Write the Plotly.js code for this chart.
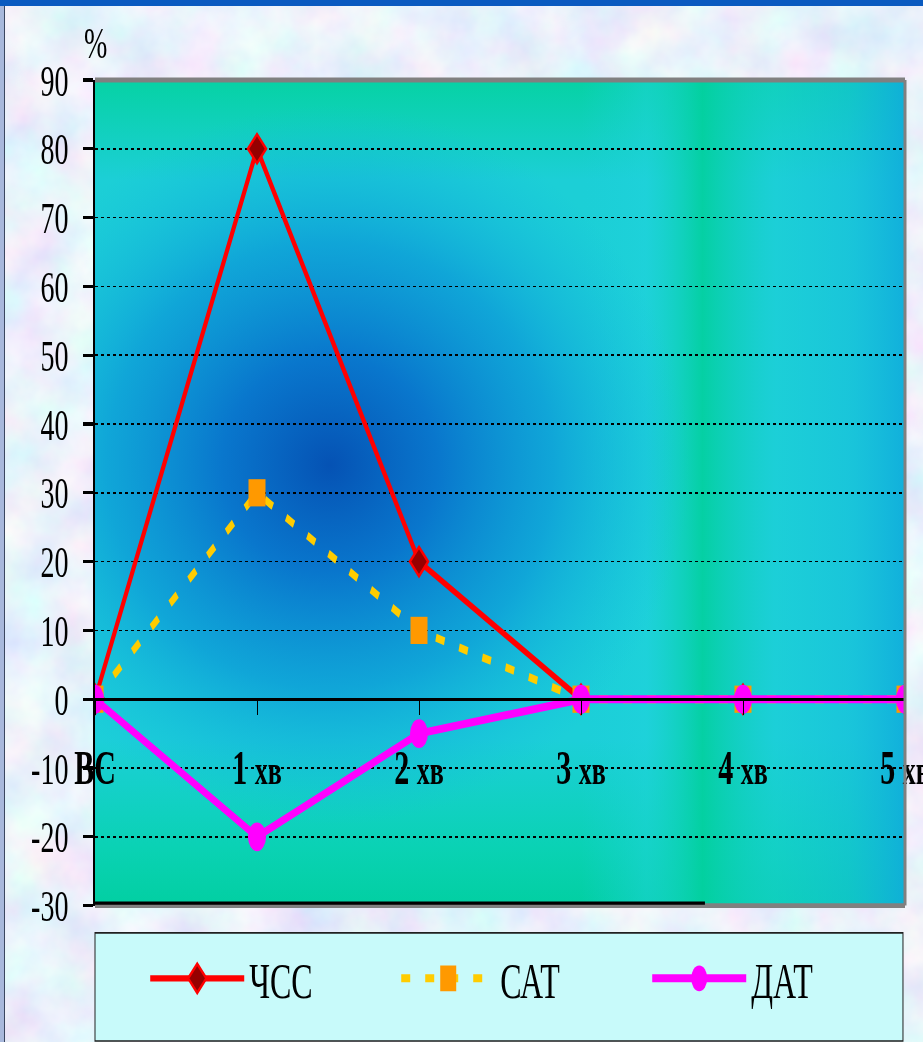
<!DOCTYPE html>
<html>
<head>
<meta charset="utf-8">
<script src="https://cdn.plot.ly/plotly-3.0.1.min.js"></script>
<style>
  html, body { margin: 0; padding: 0; width: 923px; height: 1042px; overflow: hidden; }
  body { position: relative; background-color: #d2dff6; }
  #topbar { position: absolute; left: 0; top: 0; width: 923px; height: 6px; background: #0a5ac0; }
  #edge { position: absolute; left: 0; top: 6px; width: 4px; height: 1036px; background: #a8b8dc; border-right: 1px solid #3a4660; }
  /* the chart is laid out at 1/1.6 height and stretched vertically */
  #chart { position: absolute; left: 0; top: 0; width: 923px; height: 652px; transform: scaleY(1.6); transform-origin: 0 0; }
</style>
</head>
<body>
<div id="topbar"></div>
<div id="edge"></div>
<div id="chart"></div>
<script>
// Time points after the load and the relative change (%) of each indicator
const categories = ['ВС', '1 хв', '2 хв', '3 хв', '4 хв', '5 хв'];
const hrValues  = [0, 80, 20, 0, 0, 0];    // ЧСС
const sbpValues = [0, 30, 10, 0, 0, 0];    // САТ
const dbpValues = [0, -20, -5, 0, 0, 0];   // ДАТ
const seriesNames = ['ЧСС', 'САТ', 'ДАТ'];
const yTickValues = [-30, -20, -10, 0, 10, 20, 30, 40, 50, 60, 70, 80, 90];
const yUnit = '%';

// mottled pastel page background
const textureSvg =
  "<svg xmlns='http://www.w3.org/2000/svg' width='923' height='1042'>" +
  "<filter id='n' x='0' y='0' width='100%' height='100%'>" +
  "<feTurbulence type='fractalNoise' baseFrequency='0.018' numOctaves='4' seed='11'/>" +
  "<feColorMatrix type='matrix' values='0.42 0 0 0 0.61  0 0.36 0 0 0.70  0 0 0.1 0 0.91  0 0 0 0 1'/>" +
  "</filter><rect width='100%' height='100%' filter='url(#n)'/></svg>";
document.body.style.backgroundImage = 'url("data:image/svg+xml,' + encodeURIComponent(textureSvg) + '")';

// gradient fill of the plotting area
const plotFillSvg =
  "<svg xmlns='http://www.w3.org/2000/svg' width='810' height='825' viewBox='0 0 810 825' preserveAspectRatio='none'>" +
  "<defs>" +
  "<linearGradient id='v' x1='0' y1='0' x2='0' y2='1'>" +
  "<stop offset='0' stop-color='#06d2a4'/><stop offset='0.12' stop-color='#1ccfd6'/>" +
  "<stop offset='0.8' stop-color='#1ccfd8'/><stop offset='0.93' stop-color='#0ad2b4'/>" +
  "<stop offset='1' stop-color='#02cfa2'/></linearGradient>" +
  "<linearGradient id='h' x1='0' y1='0' x2='1' y2='0'>" +
  "<stop offset='0' stop-color='#1cd0dc' stop-opacity='0'/>" +
  "<stop offset='0.6' stop-color='#1cd0dc' stop-opacity='0'/>" +
  "<stop offset='0.68' stop-color='#20d4dc' stop-opacity='0.5'/>" +
  "<stop offset='0.75' stop-color='#02d09e' stop-opacity='0.9'/>" +
  "<stop offset='0.84' stop-color='#1ccfd8' stop-opacity='0.5'/>" +
  "<stop offset='0.93' stop-color='#18bfdc' stop-opacity='0.6'/>" +
  "<stop offset='1' stop-color='#10acdc' stop-opacity='0.9'/></linearGradient>" +
  "<radialGradient id='r' gradientUnits='userSpaceOnUse' cx='235' cy='385' r='360'>" +
  "<stop offset='0' stop-color='#0552b4' stop-opacity='1'/>" +
  "<stop offset='0.3' stop-color='#0872cc' stop-opacity='0.95'/>" +
  "<stop offset='0.62' stop-color='#0c98d8' stop-opacity='0.75'/>" +
  "<stop offset='1' stop-color='#14b8e0' stop-opacity='0'/></radialGradient>" +
  "</defs>" +
  "<rect width='810' height='825' fill='url(#v)'/>" +
  "<rect width='810' height='825' fill='url(#h)'/>" +
  "<rect width='810' height='825' fill='url(#r)'/>" +
  "</svg>";
const plotFillSrc = 'data:image/svg+xml,' + encodeURIComponent(plotFillSvg);

const serif = '"Liberation Serif", "Times New Roman", serif';

// "1 хв" -> larger number, smaller unit
const tickText = categories.map(c => {
  const parts = c.split(' ');
  return parts.length > 1 ? parts[0] + ' <span style="font-size:26px">' + parts.slice(1).join(' ') + '</span>' : c;
});
// plain hyphen for negative values
const yTickText = yTickValues.map(v => String(v));

const traces = [
  {
    x: categories, y: hrValues, name: seriesNames[0], type: 'scatter', mode: 'lines+markers',
    line: { color: '#ff0000', width: 4 },
    marker: { symbol: 'diamond', size: 14, color: '#960000', line: { color: '#ff0000', width: 2 } }
  },
  {
    x: categories, y: sbpValues, name: seriesNames[1], type: 'scatter', mode: 'lines+markers',
    line: { color: '#ffcc00', width: 5, dash: '9px,15px' },
    marker: { symbol: 'square', size: 17, color: '#ff9900', line: { width: 0 } }
  },
  {
    x: categories, y: dbpValues, name: seriesNames[2], type: 'scatter', mode: 'lines+markers',
    line: { color: '#ff00ff', width: 5 },
    marker: { symbol: 'circle', size: 18, color: '#ff00ff', line: { width: 0 } }
  }
];

const legendTop = -0.033, legendBottom = -0.164;

const layout = {
  width: 923, height: 652,
  margin: { l: 95, r: 18, t: 50, b: 86, autoexpand: false },
  paper_bgcolor: 'rgba(0,0,0,0)',
  plot_bgcolor: '#1ccfd8',
  font: { family: serif, color: '#000', size: 28 },
  showlegend: true,
  legend: {
    orientation: 'h', x: 0.062, xanchor: 'left', y: (legendTop + legendBottom) / 2 + 0.01, yanchor: 'middle',
    bgcolor: 'rgba(0,0,0,0)', borderwidth: 0, font: { family: serif, size: 32, color: '#000' },
    itemwidth: 94, entrywidth: 142, traceorder: 'normal'
  },
  xaxis: {
    type: 'category', range: [0, 5], anchor: 'free', position: 0.25,
    showline: true, linecolor: '#000', linewidth: 2,
    ticks: 'outside', ticklen: 9, tickcolor: '#000', tickwidth: 1,
    tickmode: 'array', tickvals: categories, ticktext: tickText,
    tickfont: { family: serif, size: 30, weight: 'bold', color: '#000' },
    ticklabelstandoff: 7,
    showgrid: false, zeroline: false, fixedrange: true
  },
  xaxis2: {
    overlaying: 'x', type: 'linear', range: [0, 5], anchor: 'free', position: 0.25,
    tickmode: 'linear', tick0: 0, dtick: 1,
    ticks: 'inside', ticklen: 8, tickcolor: '#000', tickwidth: 1,
    showticklabels: false, showgrid: false, zeroline: false, showline: false
  },
  yaxis: {
    range: [-30, 90], tickmode: 'array', tickvals: yTickValues, ticktext: yTickText,
    ticks: 'outside', ticklen: 10, tickcolor: '#000', tickwidth: 2,
    showline: true, linecolor: '#000', linewidth: 2,
    showgrid: true, gridcolor: '#000', gridwidth: 1, griddash: '3px,3px',
    zeroline: false, ticklabelstandoff: 9, fixedrange: true
  },
  yaxis2: {
    overlaying: 'y', anchor: 'x', range: [-30, 90], tickmode: 'array', tickvals: yTickValues,
    ticks: 'inside', ticklen: 8, tickcolor: '#000', tickwidth: 2,
    showticklabels: false, showgrid: false, zeroline: false, showline: false
  },
  images: [{
    source: plotFillSrc, xref: 'paper', yref: 'paper', x: 0, y: 1, sizex: 1, sizey: 1,
    xanchor: 'left', yanchor: 'top', sizing: 'stretch', layer: 'below'
  }],
  shapes: [
    // frame of the plotting area
    { type: 'line', xref: 'paper', yref: 'paper', x0: 0, x1: 1, y0: 1, y1: 1, line: { color: '#808080', width: 3 }, layer: 'above' },
    { type: 'line', xref: 'paper', yref: 'paper', x0: 1, x1: 1, y0: 0, y1: 1, line: { color: '#808080', width: 3 }, layer: 'above' },
    { type: 'line', xref: 'paper', yref: 'paper', x0: 0, x1: 1, y0: 0, y1: 0, line: { color: '#808080', width: 3 }, layer: 'above' },
    { type: 'line', xref: 'paper', yref: 'paper', x0: 0, x1: 0.753, y0: 0.003, y1: 0.003, line: { color: '#000', width: 2 }, layer: 'above' },
    // legend box
    { type: 'rect', xref: 'paper', yref: 'paper', x0: 0, x1: 0.9975, y0: legendBottom, y1: legendTop,
      fillcolor: '#c8fafa', line: { color: '#202020', width: 1 }, layer: 'below' }
  ],
  annotations: [{
    text: yUnit, xref: 'paper', yref: 'paper', x: 0, y: 1, xanchor: 'center', yanchor: 'bottom',
    yshift: 6, showarrow: false, font: { family: serif, size: 28, color: '#000' }
  }]
};

Plotly.newPlot('chart', traces, layout, { displayModeBar: false, staticPlot: true });
</script>
</body>
</html>
